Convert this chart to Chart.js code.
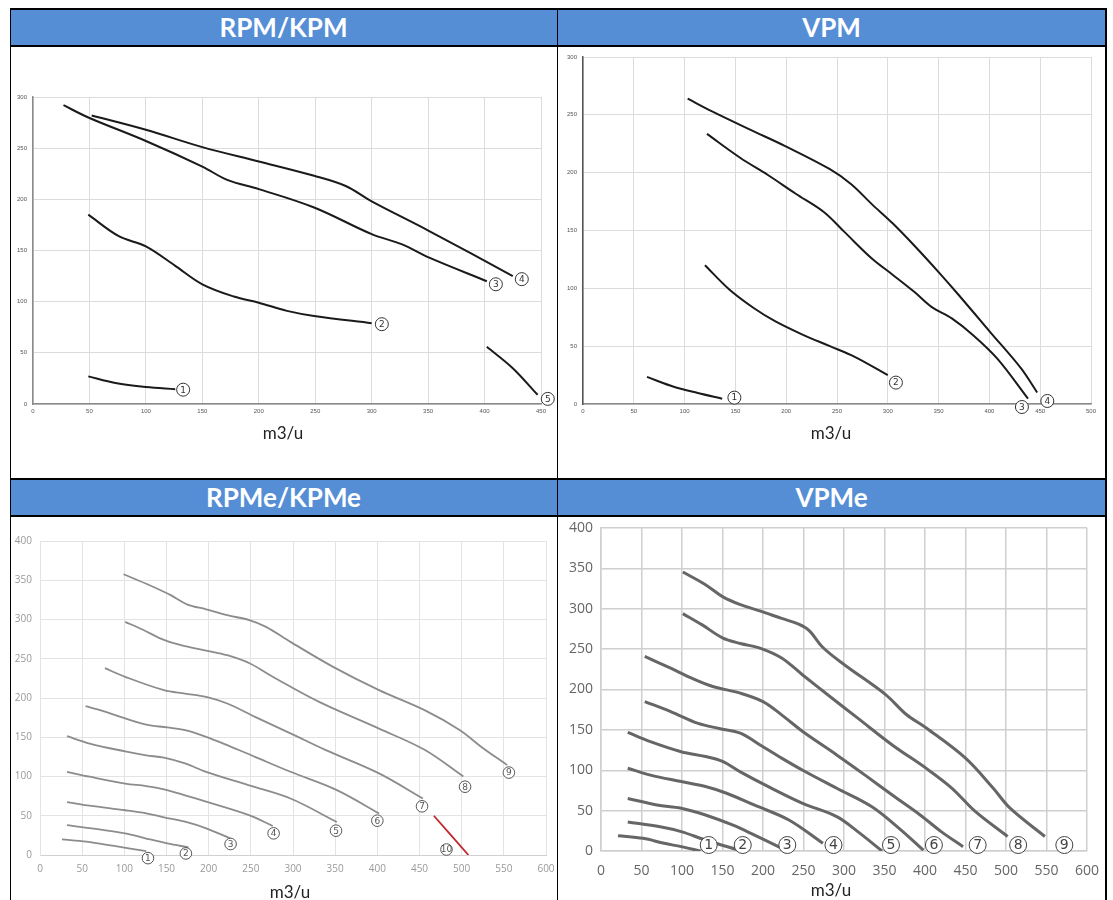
<!DOCTYPE html>
<html>
<head>
<meta charset="utf-8">
<script src="https://cdn.jsdelivr.net/npm/chart.js@4.4.1/dist/chart.umd.min.js"></script>
<style>
  body { margin: 0; background: #fff; }
  #wrap { position: relative; width: 1113px; height: 900px; overflow: hidden; background: #fff; }
  .hdr { position: absolute; background: #558ed5; color: #fff; font-family: Lato, "Open Sans", sans-serif;
         font-weight: 700; font-size: 26px; text-align: center; line-height: 37px; }
  .ln { position: absolute; background: #000; }
  .unit { position: absolute; font-family: Lato, "Open Sans", sans-serif; font-size: 17px; color: #222; width: 200px; text-align: center; }
  canvas { position: absolute; }
</style>
</head>
<body>
<div id="wrap">
  <div class="hdr" style="left:10px;top:9px;width:547px;height:37px;">RPM/KPM</div>
  <div class="hdr" style="left:557px;top:9px;width:549px;height:37px;">VPM</div>
  <div class="hdr" style="left:10px;top:479px;width:547px;height:37px;">RPMe/KPMe</div>
  <div class="hdr" style="left:557px;top:479px;width:549px;height:37px;">VPMe</div>

  <canvas id="c1" width="543" height="375" style="left:12px;top:50px;"></canvas>
  <canvas id="c2" width="545" height="378" style="left:559px;top:47px;"></canvas>
  <canvas id="c3" width="544" height="383" style="left:12px;top:517px;"></canvas>
  <canvas id="c4" width="545" height="383" style="left:559px;top:517px;"></canvas>

  <div class="unit" style="left:183px;top:422px;">m3/u</div>
  <div class="unit" style="left:731px;top:422px;">m3/u</div>
  <div class="unit" style="left:190px;top:881px;">m3/u</div>
  <div class="unit" style="left:731px;top:879px;">m3/u</div>

  <div class="ln" style="left:10px;top:8px;width:1097px;height:2px;"></div>
  <div class="ln" style="left:10px;top:45px;width:1097px;height:2px;"></div>
  <div class="ln" style="left:10px;top:478px;width:1097px;height:2px;"></div>
  <div class="ln" style="left:10px;top:515px;width:1097px;height:2px;"></div>
  <div class="ln" style="left:10px;top:8px;width:1px;height:892px;"></div>
  <div class="ln" style="left:557px;top:8px;width:1px;height:892px;"></div>
  <div class="ln" style="left:1105px;top:8px;width:2px;height:892px;"></div>
</div>

<script>
// --- RPM/KPM (x: m3/u, y: Pa) ---
const rpm1 = [[49,27],[73,20.5],[100,16.6],[126,14.5]];
const rpm2 = [[49,185],[76,164],[100,154],[126,135],[150,117],[178,105],[200,99],[225,91],[249,86],[300,79]];
const rpm3 = [[27,292],[49,280],[100,257],[150,232],[172,219],[200,210],[249,192],[300,166],[327,156],[351,143],[402,120]];
const rpm4 = [[52,282],[100,268],[150,251],[200,237],[249,223],[277,213],[300,198],[351,169],[425,125]];
const rpm5 = [[402,56],[425,35],[447,9]];
const rpmLabels = [[133,14],[309,78],[410,117],[433,122],[456,5]];

// --- VPM ---
const vpm1 = [[63,23.4],[90,14.7],[113,9.5],[137,4.6]];
const vpm2 = [[120,120],[144,99],[168,83],[189,71.6],[216,60],[243,50],[267,41],[300,25]];
const vpm3 = [[122,233.5],[155,212.7],[182,198],[209,182],[237,166],[257,149],[284,126],[305,111.6],[326,97],[343,84],[363,74],[384,59.5],[408,39],[438,4.6]];
const vpm4 = [[103,264],[127,253],[165,237],[199,223],[243,203],[264,190],[284,173],[305,156],[326,137],[350,114],[370,94],[401,62],[431,31],[447,10]];
const vpmLabels = [[149,5.5],[308,18.5],[432,-2.6],[457,2.6]];

// --- RPMe/KPMe ---
const rpme1 = [[26,20],[55,17],[88,11.5],[126,5]];
const rpme2 = [[32,38],[76,31.8],[101,27.6],[126,21],[151,14.8],[176,9.8]];
const rpme3 = [[32,67.4],[59,62.8],[101,57],[126,53],[147,48],[172,42.4],[197,34],[226,21]];
const rpme4 = [[32,106],[59,99.7],[101,91],[126,87.8],[147,83.6],[172,76],[197,67.9],[247,51],[276,37]];
const rpme5 = [[32,151.4],[59,142],[101,132],[126,127],[147,124],[172,116.6],[197,106],[247,89],[297,72],[352,42]];
const rpme6 = [[54,189.6],[78,182.4],[101,174],[126,166],[151,162.5],[172,159],[197,150.6],[222,140],[255,125],[297,106],[352,82.7],[402,53]];
const rpme7 = [[77,238],[101,227],[147,210],[172,205.7],[197,201.5],[222,193],[255,176],[297,155],[339,133.6],[402,104],[454,72]];
const rpme8 = [[101,297],[122,287],[147,274],[172,266],[197,260.5],[222,254.5],[249,244],[276,227],[331,195],[402,161],[456,134],[502,100]];
const rpme9 = [[99,357.6],[130,343.6],[155,331],[175,319],[197,313],[222,305.5],[249,299],[268,290.6],[297,271.5],[347,240],[402,210],[456,184.5],[498,159],[523,138],[554,114.5]];
const rpme10 = [[467,50],[508,0]];
const rpmeLabels = [[128,-4],[173,2],[226,14],[277,27.6],[351,31],[400,43.7],[453,62],[504,87],[556,105],[482,7]];

// --- VPMe ---
const vpme1 = [[21,19],[52,15.7],[78,9.5],[99,5.4],[123,0]];
const vpme2 = [[33,36],[73,30],[99,24],[129,13.6],[172,0.5]];
const vpme3 = [[33,65],[69,57],[99,53],[129,44.6],[163,32],[189,20],[224,3]];
const vpme4 = [[33,102.5],[61,94],[99,86],[129,79.8],[155,71.5],[189,57],[232,38.4],[274,9.5]];
const vpme5 = [[33,147],[61,135.5],[99,123],[129,117],[150,111],[172,98],[206,80],[249,59],[291,42.6],[317,24],[347,0]];
const vpme6 = [[54,185],[86,172.7],[120,158],[146,151.7],[172,146],[197,131],[223,115],[249,100],[291,77.7],[334,55],[368,28],[398,1]];
const vpme7 = [[54,241],[86,226.4],[112,214],[138,203.7],[172,195.5],[200,185],[223,168.6],[249,148],[291,119],[326,94],[360,69],[394,44.6],[420,24],[447,5.4]];
const vpme8 = [[101,294],[125,280],[150,264],[172,257],[197,251],[223,239],[249,218],[283,191],[317,164.5],[360,131],[402,102],[433,78],[462,49],[502,18]];
const vpme9 = [[101,345.5],[129,329.8],[150,315],[172,305],[197,297],[223,288],[244,281],[257,273],[274,252],[300,231],[351,194],[377,169],[402,152],[450,115],[484,78],[505,53],[548,18]];
const vpmeLabels = [[133,7.4],[175,7.4],[230,7.4],[287,7.4],[358,7.4],[411,7.4],[465,7.4],[515,7.4],[572,7.4]];

// pinta los numeros en circulo en la posicion de datos
const circleLabels = {
    id: 'circleLabels',
    afterDatasetsDraw(chart, args, opts) {
        const ctx = chart.ctx;
        const xs = chart.scales.x, ys = chart.scales.y;
        ctx.save();
        opts.points.forEach((p, i) => {
            const px = xs.getPixelForValue(p[0]);
            const py = ys.getPixelForValue(p[1]);
            ctx.beginPath();
            ctx.arc(px, py, opts.r, 0, Math.PI * 2);
            ctx.fillStyle = '#fff';
            ctx.fill();
            ctx.lineWidth = opts.lw || 1;
            ctx.strokeStyle = opts.color;
            ctx.stroke();
            ctx.fillStyle = opts.color;
            ctx.font = opts.font;
            ctx.textAlign = 'center';
            ctx.textBaseline = 'middle';
            ctx.fillText(String(i + 1), px, py + 0.5);
        });
        ctx.restore();
    }
};

function toXY(arr) {
    return arr.map(p => ({ x: p[0], y: p[1] }));
}

function crearGrafica(id, series, s) {
    const datasets = series.map((arr, i) => ({
        data: toXY(arr),
        showLine: true,
        borderColor: (s.colors && s.colors[i]) || s.lineColor,
        borderWidth: s.lineWidth,
        pointRadius: 0,
        tension: 0.35,
        fill: false
    }));
    return new Chart(document.getElementById(id), {
        type: 'scatter',
        data: { datasets },
        options: {
            responsive: false,
            animation: false,
            layout: { padding: { top: s.padTop, right: s.padRight, left: 0, bottom: 0 } },
            plugins: {
                legend: { display: false },
                tooltip: { enabled: false },
                circleLabels: s.labels
            },
            scales: {
                x: {
                    type: 'linear', min: 0, max: s.xMax,
                    // altura fija y sin relleno extra a la derecha
                    afterFit: sc => { sc.height = s.xHeight; sc.paddingRight = s.padRight; },
                    grid: { color: s.gridColor, lineWidth: s.gridWidth, drawTicks: false },
                    border: { color: s.axisColor, width: s.axisWidth },
                    ticks: { stepSize: 50, color: s.tickColor, font: { size: s.tickSize, family: s.tickFont }, padding: s.xPad, maxRotation: 0 }
                },
                y: {
                    min: 0, max: s.yMax,
                    afterFit: sc => { sc.width = s.yWidth; sc.paddingTop = s.padTop; },
                    grid: { color: s.gridColor, lineWidth: s.gridWidth, drawTicks: false },
                    border: { color: s.yAxisColor || s.gridColor, width: s.axisWidth },
                    ticks: { stepSize: 50, color: s.tickColor, font: { size: s.tickSize, family: s.tickFont }, padding: s.yPad }
                }
            }
        },
        plugins: [circleLabels]
    });
}

crearGrafica('c1', [rpm1, rpm2, rpm3, rpm4, rpm5], {
    xMax: 450, yMax: 300, yWidth: 21, xHeight: 21, padTop: 47, padRight: 14,
    lineColor: '#1a1a1a', lineWidth: 2, gridColor: '#dcdcdc', gridWidth: 1,
    axisColor: '#8a8a8a', yAxisColor: '#8a8a8a', axisWidth: 1.5,
    tickColor: '#555', tickSize: 6, tickFont: 'Arial, sans-serif', xPad: 4, yPad: 6,
    labels: { points: rpmLabels, r: 6.5, color: '#333', font: '9px "DejaVu Sans", sans-serif' }
});

crearGrafica('c2', [vpm1, vpm2, vpm3, vpm4], {
    xMax: 500, yMax: 300, yWidth: 24, xHeight: 21, padTop: 10, padRight: 13,
    lineColor: '#1a1a1a', lineWidth: 2, gridColor: '#dcdcdc', gridWidth: 1,
    axisColor: '#8a8a8a', yAxisColor: '#555', axisWidth: 1.5,
    tickColor: '#555', tickSize: 6, tickFont: 'Arial, sans-serif', xPad: 4, yPad: 6,
    labels: { points: vpmLabels, r: 6.5, color: '#333', font: '9px "DejaVu Sans", sans-serif' }
});

crearGrafica('c3', [rpme1, rpme2, rpme3, rpme4, rpme5, rpme6, rpme7, rpme8, rpme9, rpme10], {
    xMax: 600, yMax: 400, yWidth: 28, xHeight: 45, padTop: 24, padRight: 10,
    lineColor: '#8c8c8c', colors: [,,,,,,,,, '#c0262b'], lineWidth: 1.8, gridColor: '#e3e3e3', gridWidth: 1,
    axisColor: '#d0d0d0', yAxisColor: '#e3e3e3', axisWidth: 1,
    tickColor: '#999', tickSize: 10, tickFont: '"Open Sans", sans-serif', xPad: 8, yPad: 8,
    labels: { points: rpmeLabels, r: 5.8, color: '#555', font: '9px "DejaVu Sans", sans-serif' }
});

crearGrafica('c4', [vpme1, vpme2, vpme3, vpme4, vpme5, vpme6, vpme7, vpme8, vpme9], {
    xMax: 600, yMax: 400, yWidth: 42, xHeight: 49, padTop: 11, padRight: 17,
    lineColor: '#666', lineWidth: 3, gridColor: '#cfcfcf', gridWidth: 1.5,
    axisColor: '#cfcfcf', yAxisColor: '#cfcfcf', axisWidth: 1.5,
    tickColor: '#666', tickSize: 14, tickFont: '"Open Sans", sans-serif', xPad: 12, yPad: 8,
    labels: { points: vpmeLabels, r: 8.5, color: '#444', font: '14px "DejaVu Sans", sans-serif', lw: 1 }
});
</script>
</body>
</html>
